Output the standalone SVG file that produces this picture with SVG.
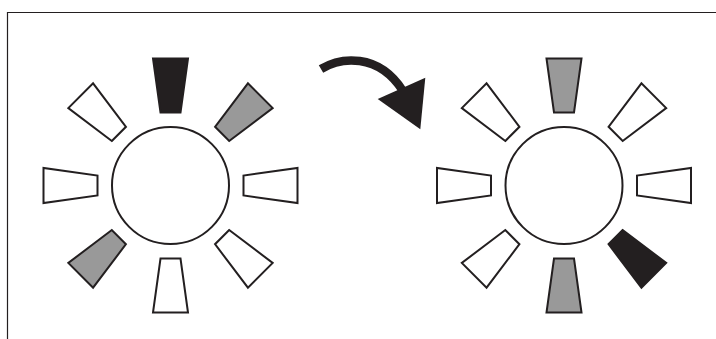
<svg xmlns="http://www.w3.org/2000/svg" width="716" height="339" viewBox="0 0 716 339">
  <style>
    .ray { stroke: #231f20; stroke-width: 2; stroke-linejoin: miter; }
    .w { fill: #ffffff; }
    .g { fill: #999999; }
    .k { fill: #231f20; }
    .core { fill: #ffffff; stroke: #231f20; stroke-width: 2; }
    .frame { fill: none; stroke: #231f20; stroke-width: 1.2; }
  </style>
  <defs>
    <polygon id="ray" points="-10,-73 10,-73 17.5,-127 -17.5,-127"/>
  </defs>
  <rect width="716" height="339" fill="#ffffff"/>
  <path class="frame" d="M7.5,339 V12.5 H716"/>

  <g id="sun-before" transform="translate(170.5,185.5)">
    <use href="#ray" class="ray k" transform="rotate(0)"/>
    <use href="#ray" class="ray g" transform="rotate(45)"/>
    <use href="#ray" class="ray w" transform="rotate(90)"/>
    <use href="#ray" class="ray w" transform="rotate(135)"/>
    <use href="#ray" class="ray w" transform="rotate(180)"/>
    <use href="#ray" class="ray g" transform="rotate(225)"/>
    <use href="#ray" class="ray w" transform="rotate(270)"/>
    <use href="#ray" class="ray w" transform="rotate(315)"/>
    <circle class="core" cx="0" cy="0" r="58.5"/>
  </g>

  <g id="sun-after" transform="translate(564,185.5)">
    <use href="#ray" class="ray g" transform="rotate(0)"/>
    <use href="#ray" class="ray w" transform="rotate(45)"/>
    <use href="#ray" class="ray w" transform="rotate(90)"/>
    <use href="#ray" class="ray k" transform="rotate(135)"/>
    <use href="#ray" class="ray g" transform="rotate(180)"/>
    <use href="#ray" class="ray w" transform="rotate(225)"/>
    <use href="#ray" class="ray w" transform="rotate(270)"/>
    <use href="#ray" class="ray w" transform="rotate(315)"/>
    <circle class="core" cx="0" cy="0" r="58.5"/>
  </g>

  <g id="connectors">
    <path d="M321,69 C340,57.5 378,52 403,91" fill="none" stroke="#231f20" stroke-width="8.5"/>
    <polygon points="377.7,99 425.3,77.7 420.3,129.3" fill="#231f20"/>
  </g>
</svg>
